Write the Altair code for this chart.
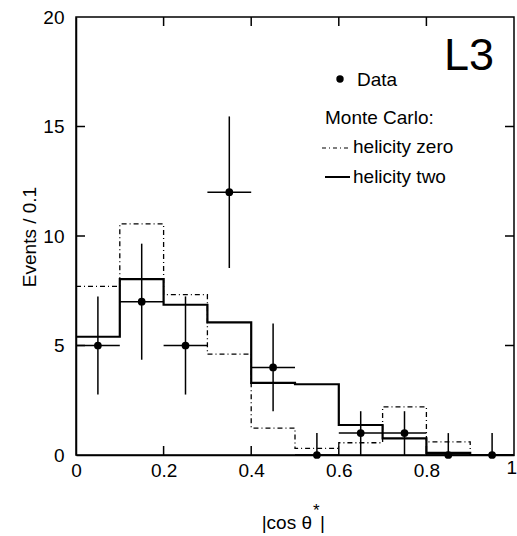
import altair as alt
import pandas as pd

# ---- data ----
bin_lo = [0.0, 0.1, 0.2, 0.3, 0.4, 0.5, 0.6, 0.7, 0.8, 0.9]
hel_zero = [7.7, 10.55, 7.32, 4.61, 1.23, 0.3, 0.56, 2.2, 0.6, 0.0]
hel_two = [5.4, 8.03, 6.86, 6.06, 3.29, 3.23, 1.37, 0.76, 0.1, 0.0]

data_x = [0.05, 0.15, 0.25, 0.35, 0.45, 0.55, 0.65, 0.75, 0.85, 0.95]
data_n = [5, 7, 5, 12, 4, 0, 1, 1, 0, 0]
err_lo = [2.24, 2.65, 2.24, 3.46, 2.0, 0.0, 1.0, 1.0, 0.0, 0.0]
err_hi = [2.24, 2.65, 2.24, 3.46, 2.0, 1.0, 1.0, 1.0, 1.0, 1.0]
half_w = 0.05

x_tick_vals = [0, 0.2, 0.4, 0.6, 0.8]
x_last_label = "1"
y_tick_vals = [0, 5, 10, 15, 20]
x_inner_ticks = [0.2, 0.4, 0.6, 0.8]
y_inner_ticks = [5, 10, 15]

W = 438
H = 438
FONT = "Liberation Sans"

xs = alt.Scale(domain=[0, 1], nice=False, zero=False)
ys = alt.Scale(domain=[0, 20], nice=False)
XAX = alt.Axis(values=x_tick_vals, format=".1~f", title=None, grid=False,
               tickSize=0, labelPadding=6, labelFontSize=19, labelFont=FONT,
               labelColor="black", domainColor="black", domainWidth=1.5,
               labelFlush=False)
YAX = alt.Axis(values=y_tick_vals, title=None, grid=False, tickSize=0,
               labelPadding=12, labelFontSize=19, labelFont=FONT,
               labelColor="black", domainColor="black", domainWidth=1.5)

# histogram step tables
step_zero = pd.DataFrame({"x": bin_lo + [1.0], "v": hel_zero + [hel_zero[-1]]})
step_two = pd.DataFrame({"x": bin_lo + [1.0], "v": hel_two + [hel_two[-1]]})

pts = pd.DataFrame({
    "x": data_x,
    "n": data_n,
    "lo": [n - e for n, e in zip(data_n, err_lo)],
    "hi": [n + e for n, e in zip(data_n, err_hi)],
    "xl": [x - half_w for x in data_x],
    "xr": [x + half_w for x in data_x],
})

zero_line = alt.Chart(step_zero).mark_line(
    interpolate="step-after", color="black", strokeWidth=1.3,
    strokeDash=[5, 3, 1, 3]
).encode(x=alt.X("x:Q", scale=xs, axis=XAX), y=alt.Y("v:Q", scale=ys, axis=YAX))

two_line = alt.Chart(step_two).mark_line(
    interpolate="step-after", color="black", strokeWidth=2.2
).encode(x=alt.X("x:Q", scale=xs, axis=XAX), y=alt.Y("v:Q", scale=ys, axis=YAX))

vbars = alt.Chart(pts).mark_rule(color="black", strokeWidth=1.5).encode(
    x=alt.X("x:Q", scale=xs, axis=XAX),
    y=alt.Y("lo:Q", scale=ys, axis=YAX), y2="hi:Q")

hbars = alt.Chart(pts).mark_rule(color="black", strokeWidth=1.5).encode(
    x=alt.X("xl:Q", scale=xs, axis=XAX), x2="xr:Q",
    y=alt.Y("n:Q", scale=ys, axis=YAX))

dots = alt.Chart(pts).mark_circle(color="black", size=60, opacity=1).encode(
    x=alt.X("x:Q", scale=xs, axis=XAX), y=alt.Y("n:Q", scale=ys, axis=YAX))

xt = pd.DataFrame({"t": x_inner_ticks})
yt = pd.DataFrame({"t": y_inner_ticks})
tick_b = alt.Chart(xt).mark_rule(color="black", strokeWidth=1.5).encode(
    x=alt.X("t:Q", scale=xs, axis=XAX), y=alt.value(H), y2=alt.value(H - 9))
tick_t = alt.Chart(xt).mark_rule(color="black", strokeWidth=1.5).encode(
    x=alt.X("t:Q", scale=xs, axis=XAX), y=alt.value(0), y2=alt.value(9))
tick_l = alt.Chart(yt).mark_rule(color="black", strokeWidth=1.5).encode(
    y=alt.Y("t:Q", scale=ys, axis=YAX), x=alt.value(0), x2=alt.value(9))
tick_r = alt.Chart(yt).mark_rule(color="black", strokeWidth=1.5).encode(
    y=alt.Y("t:Q", scale=ys, axis=YAX), x=alt.value(W), x2=alt.value(W - 9))


def label(txt, x, y, size=19, align="left", baseline="middle", angle=0):
    kw = dict(text=txt, font=FONT, fontSize=size, align=align,
              baseline=baseline, color="black")
    if angle:
        kw["angle"] = angle
    return alt.Chart(pd.DataFrame({"a": [0]})).mark_text(**kw).encode(
        x=alt.value(x), y=alt.value(y))


def seg(x1, x2, y, dash=None, width=1.5):
    kw = dict(color="black", strokeWidth=width)
    if dash:
        kw["strokeDash"] = dash
    return alt.Chart(pd.DataFrame({"a": [0]})).mark_rule(**kw).encode(
        x=alt.value(x1), x2=alt.value(x2), y=alt.value(y))


legend_dot = alt.Chart(pd.DataFrame({"a": [0]})).mark_circle(
    color="black", size=55, opacity=1).encode(x=alt.value(264), y=alt.value(62))

texts = [
    label("L3", 368, 53, size=45, baseline="alphabetic"),
    label("Data", 281, 63),
    label("Monte Carlo:", 249, 101),
    seg(246, 274, 131, dash=[4, 3, 1, 3], width=1.2),
    label("helicity zero", 277, 130),
    seg(249, 274, 160, width=2),
    label("helicity two", 277, 160),
    label("Events / 0.1", -46, 220, size=19, align="center", angle=270),
    label("|cos θ", 236, 506, size=19, align="right"),
    label("*", 237, 494, size=17),
    label("|", 244, 506, size=19),
    label(x_last_label, W + 3, 451, size=19, align="right", baseline="middle"),
]

chart = alt.layer(
    zero_line, two_line, vbars, hbars, dots,
    tick_b, tick_t, tick_l, tick_r, legend_dot, *texts
).properties(
    width=W, height=H,
    autosize=alt.AutoSizeParams(type="none"),
    padding={"left": 76, "top": 17, "right": 3, "bottom": 81},
    background="white",
).configure_view(stroke="black", strokeWidth=1.5)

chart.save("out.html", embed_options={"renderer": "svg", "actions": False})
